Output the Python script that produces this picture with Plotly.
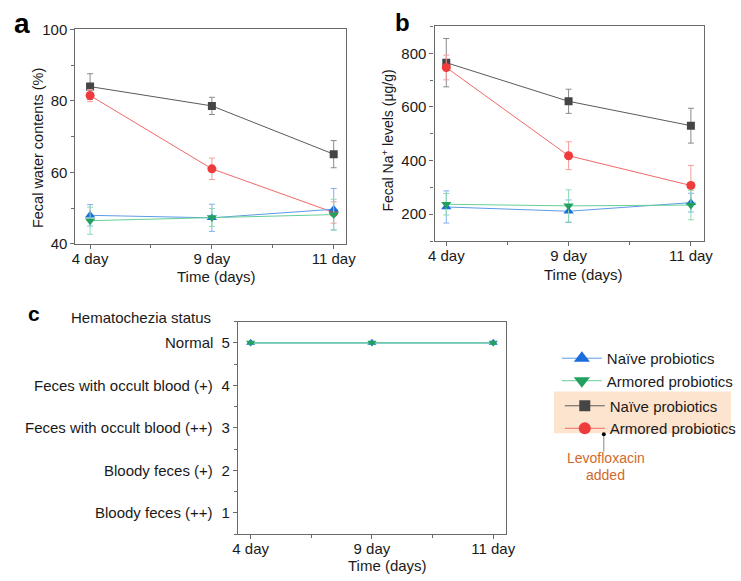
import plotly.graph_objects as go

days = ["4 day", "9 day", "11 day"]

# Panel a: fecal water contents (%)
water_naive_levo = [84.0, 78.6, 65.1]
water_naive_levo_err = [3.6, 2.4, 3.8]
water_armored_levo = [81.5, 61.0, 48.8]
water_armored_levo_err = [1.7, 3.0, 3.0]
water_naive = [48.0, 47.3, 49.7]
water_naive_err = [3.0, 3.8, 5.8]
water_armored = [46.5, 47.4, 48.2]
water_armored_err = [3.8, 2.5, 4.3]

# Panel b: fecal Na+ levels (ug/g)
na_naive_levo = [765, 621, 530]
na_naive_levo_err = [90, 45, 65]
na_armored_levo = [747, 418, 307]
na_armored_levo_err = [46, 52, 75]
na_naive = [227, 211, 243]
na_naive_err = [60, 42, 35]
na_armored = [237, 231, 234]
na_armored_err = [40, 60, 55]

# Panel c: hematochezia score
hema_naive = [5, 5, 5]
hema_armored = [5, 5, 5]
hema_levels = [1, 2, 3, 4, 5]
hema_labels = ["Bloody feces (++)", "Bloody feces (+)", "Feces with occult blood (++)",
               "Feces with occult blood (+)", "Normal"]

legend_names = ["Naïve probiotics", "Armored probiotics", "Naïve probiotics", "Armored probiotics"]

xpos = list(range(len(days)))
FONT = "Arial, Liberation Sans, sans-serif"
TXT = "#1a1a1a"

styles = {
    "black": dict(mc="#454545", lc="#5a5a5a", ec="#8a8a8a", sym="square", size=8),
    "red": dict(mc="#ef3b3b", lc="#f26868", ec="#f39c9c", sym="circle", size=9),
    "blue": dict(mc="#1b6ddb", lc="#5c9be8", ec="#7fb1ee", sym="triangle-up", size=9),
    "green": dict(mc="#22a060", lc="#66cf98", ec="#8fd9b1", sym="triangle-down", size=9),
}

fig = go.Figure()


def add_series(y, err, key, xa, ya):
    s = styles[key]
    fig.add_trace(go.Scatter(
        x=xpos, y=y, mode="lines+markers", xaxis=xa, yaxis=ya, showlegend=False,
        line=dict(color=s["lc"], width=1),
        marker=dict(symbol=s["sym"], size=s["size"], color=s["mc"]),
        error_y=dict(type="data", array=err, visible=True, color=s["ec"], thickness=1, width=3),
    ))


for y, e, k in [(water_naive_levo, water_naive_levo_err, "black"),
                (water_armored_levo, water_armored_levo_err, "red"),
                (water_naive, water_naive_err, "blue"),
                (water_armored, water_armored_err, "green")]:
    add_series(y, e, k, "x", "y")

for y, e, k in [(na_naive_levo, na_naive_levo_err, "black"),
                (na_armored_levo, na_armored_levo_err, "red"),
                (na_naive, na_naive_err, "blue"),
                (na_armored, na_armored_err, "green")]:
    add_series(y, e, k, "x2", "y2")

for y, k in [(hema_naive, "blue"), (hema_armored, "green")]:
    s = styles[k]
    fig.add_trace(go.Scatter(
        x=xpos, y=y, mode="lines+markers", xaxis="x3", yaxis="y3", showlegend=False,
        line=dict(color=s["lc"], width=1.2),
        marker=dict(symbol=s["sym"], size=8, color=s["mc"]),
    ))

# legend-only traces
leg_sizes = {"blue": 14, "green": 14, "black": 11, "red": 12}
for name, k, lg in zip(legend_names, ["blue", "green", "black", "red"],
                       ["legend", "legend", "legend2", "legend2"]):
    s = styles[k]
    fig.add_trace(go.Scatter(
        x=[None], y=[None], mode="lines+markers", name=name, legend=lg, xaxis="x3", yaxis="y3",
        line=dict(color=s["lc"], width=1),
        marker=dict(symbol=s["sym"], size=leg_sizes[k], color=s["mc"]),
    ))

W, H = 741, 581


def px(x):
    return x / W


def py(y):
    return 1 - y / H


axis_common = dict(showline=True, linecolor="#6a6a6a", linewidth=1.3, mirror=True,
                   ticks="outside", ticklen=4, tickcolor="#6a6a6a", showgrid=False,
                   zeroline=False, tickfont=dict(size=15, color=TXT, family=FONT))

xcommon = dict(axis_common, tickmode="array", tickvals=xpos, ticktext=days, ticklabelstandoff=-3,
               minor=dict(tickvals=[0.5, 1.5], ticks="outside", ticklen=3, tickcolor="#6a6a6a"))

fig.update_layout(
    width=W, height=H, autosize=False,
    margin=dict(l=0, r=0, t=0, b=0),
    paper_bgcolor="white", plot_bgcolor="white",
    font=dict(family=FONT, size=15, color=TXT),
    xaxis=dict(xcommon, domain=[px(71), px(348)], range=[-0.12, 2.105], anchor="y"),
    yaxis=dict(axis_common, domain=[py(242), py(21)], range=[40, 100], dtick=20, anchor="x",
               minor=dict(dtick=10, ticks="outside", ticklen=3, tickcolor="#6a6a6a")),
    xaxis2=dict(xcommon, domain=[px(438), px(713)], range=[-0.096, 2.104], anchor="y2"),
    yaxis2=dict(axis_common, domain=[py(239), py(18)], range=[100, 900], tickvals=[200, 400, 600, 800], anchor="x2",
                minor=dict(dtick=100, ticks="outside", ticklen=3, tickcolor="#6a6a6a")),
    xaxis3=dict(xcommon, domain=[px(237), px(511)], range=[-0.105, 2.105], anchor="y3"),
    yaxis3=dict(axis_common, domain=[py(541), py(322)], range=[0.5, 5.5], tickvals=hema_levels, anchor="x3",
                minor=dict(dtick=0.5, tick0=0.5, ticks="outside", ticklen=3, tickcolor="#6a6a6a")),
    legend=dict(x=px(563), y=py(343), xanchor="left", yanchor="top", bgcolor="rgba(0,0,0,0)",
                font=dict(size=15, family=FONT, color=TXT), itemwidth=40, tracegroupgap=0),
    legend2=dict(x=px(566), y=py(392), xanchor="left", yanchor="top", bgcolor="rgba(0,0,0,0)",
                 font=dict(size=15, family=FONT, color=TXT), itemwidth=40, tracegroupgap=0),
)


def txt(text, x, y, size=15, color=TXT, xanchor="center", yanchor="middle", angle=0, yref="paper"):
    return dict(text=text, x=x, y=y, xref="paper", yref=yref, xanchor=xanchor, yanchor=yanchor,
                showarrow=False, textangle=angle, font=dict(size=size, family=FONT, color=color))


ann = [
    txt("<b>a</b>", px(16), py(15), size=28, color="black"),
    txt("<b>b</b>", px(405), py(14), size=24, color="black"),
    txt("<b>c</b>", px(29), py(314), size=21, color="black"),
    txt("Fecal water contents (%)", px(33), py(143), size=14.5, angle=-90),
    txt("Fecal Na<sup>+</sup> levels (μg/g)", px(390), py(136), size=14, angle=-90),
    txt("Time (days)", px(215), py(276)),
    txt("Time (days)", px(590), py(273)),
    txt("Time (days)", px(390), py(573)),
    txt("Hematochezia status", px(212), py(318), xanchor="right"),
    txt("Levofloxacin", px(613), py(463), size=14, color="#d06a2a"),
    txt("added", px(613), py(480), size=14, color="#d06a2a"),
]
for lv, lab in zip(hema_levels, hema_labels):
    ann.append(txt(lab, px(214), lv, xanchor="right", yref="y3"))
fig.update_layout(annotations=ann)

fig.add_shape(type="rect", xref="paper", yref="paper", x0=px(560), x1=px(741), y0=py(437), y1=py(394),
              fillcolor="#fde4cf", line=dict(width=0), layer="below")
fig.add_shape(type="line", xref="paper", yref="paper", x0=px(611), x1=px(611), y0=py(438), y1=py(456),
              line=dict(color="#888888", width=1))
fig.add_shape(type="circle", xref="paper", yref="paper", x0=px(609), x1=px(613), y0=py(440), y1=py(436),
              fillcolor="black", line=dict(color="black", width=0))

fig.write_html("out.html")
